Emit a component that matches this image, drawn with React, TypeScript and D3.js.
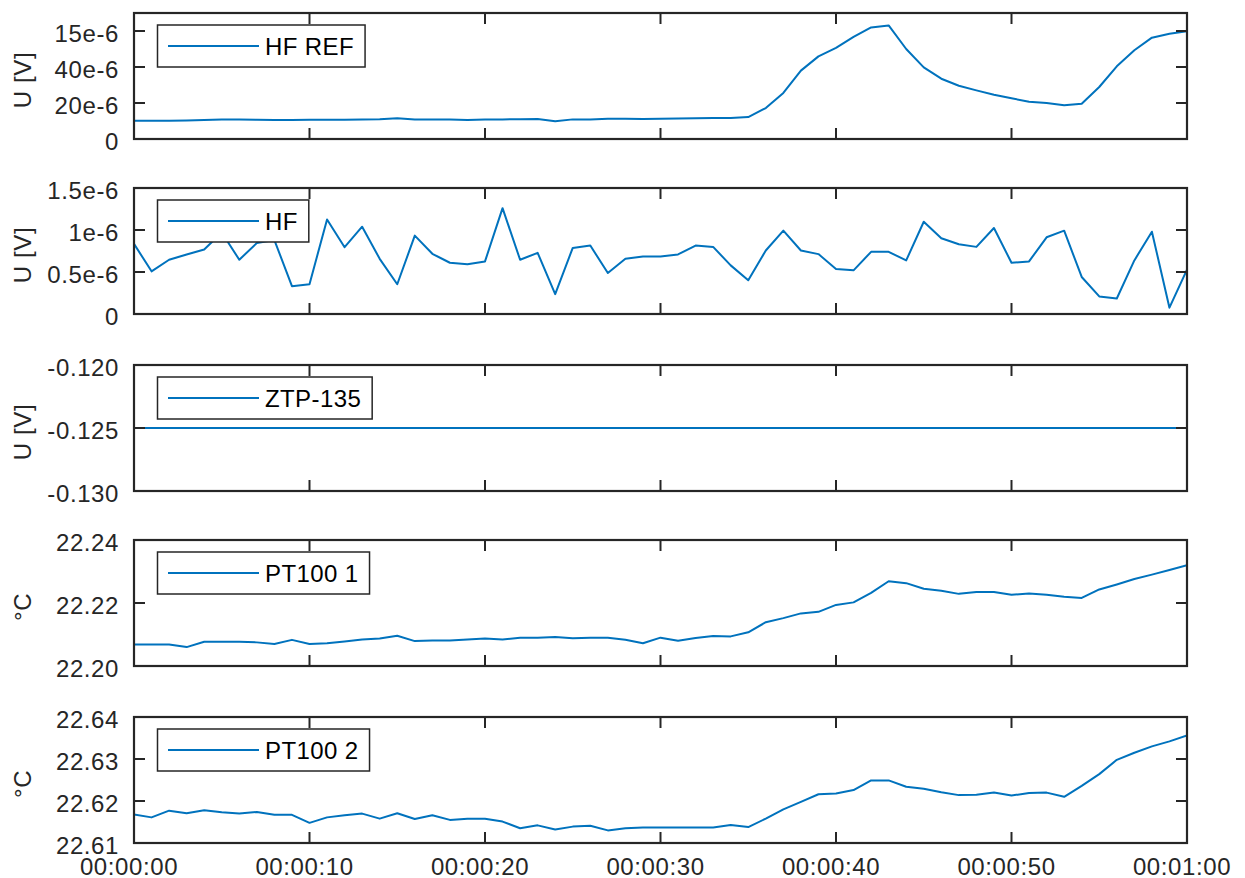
import React, { useEffect, useRef } from 'react';
import * as d3 from 'd3';

// ---- data ----
const SECONDS = [
  0, 1, 2, 3, 4, 5, 6, 7, 8, 9, 10, 11, 12, 13, 14, 15, 16, 17, 18, 19, 20,
  21, 22, 23, 24, 25, 26, 27, 28, 29, 30, 31, 32, 33, 34, 35, 36, 37, 38, 39, 40,
  41, 42, 43, 44, 45, 46, 47, 48, 49, 50, 51, 52, 53, 54, 55, 56, 57, 58, 59, 60,
];

const X_TICKS = [0, 10, 20, 30, 40, 50, 60];
const X_TICK_LABELS = ['00:00:00', '00:00:10', '00:00:20', '00:00:30', '00:00:40', '00:00:50', '00:01:00'];

// HF REF, in microvolts (scaled by 1e-6 below)
const HF_REF_UV = [
  10.1, 10.1, 10.2, 10.3, 10.6, 10.8, 10.8, 10.7, 10.6, 10.6, 10.7, 10.7, 10.7, 10.9, 11.0, 11.5,
  10.8, 10.9, 10.8, 10.5, 10.8, 10.9, 11.0, 11.1, 9.8, 10.9, 10.8, 11.2, 11.3, 11.1, 11.3, 11.4,
  11.5, 11.6, 11.6, 12.2, 17.2, 25.6, 38.0, 45.9, 50.6, 56.7, 62.0, 63.1, 50.0, 39.8, 33.5, 29.6,
  27.0, 24.6, 22.6, 20.7, 20.0, 18.7, 19.6, 28.9, 40.4, 49.3, 56.3, 58.5, 59.8,
];
const HF_UV = [
  0.835, 0.508, 0.646, 0.709, 0.768, 0.97, 0.646, 0.845, 0.88, 0.331, 0.354, 1.126, 0.795, 1.039,
  0.657, 0.354, 0.933, 0.717, 0.61, 0.591, 0.626, 1.26, 0.646, 0.728, 0.236, 0.787, 0.815, 0.488,
  0.657, 0.685, 0.685, 0.709, 0.815, 0.799, 0.579, 0.402, 0.756, 0.992, 0.756, 0.713, 0.535, 0.52,
  0.74, 0.74, 0.638, 1.098, 0.902, 0.831, 0.799, 1.024, 0.61, 0.626, 0.913, 0.992, 0.441, 0.209,
  0.185, 0.638, 0.98, 0.075, 0.528,
];
const ZTP_135 = [
  -0.125, -0.125, -0.125, -0.125, -0.125, -0.125, -0.125, -0.125, -0.125, -0.125, -0.125,
  -0.125, -0.125, -0.125, -0.125, -0.125, -0.125, -0.125, -0.125, -0.125, -0.125,
  -0.125, -0.125, -0.125, -0.125, -0.125, -0.125, -0.125, -0.125, -0.125, -0.125,
  -0.125, -0.125, -0.125, -0.125, -0.125, -0.125, -0.125, -0.125, -0.125, -0.125,
  -0.125, -0.125, -0.125, -0.125, -0.125, -0.125, -0.125, -0.125, -0.125, -0.125,
  -0.125, -0.125, -0.125, -0.125, -0.125, -0.125, -0.125, -0.125, -0.125, -0.125,
];
const PT100_1 = [
  22.2068, 22.2068, 22.2068, 22.206, 22.2077, 22.2077, 22.2077, 22.2075, 22.207, 22.2083, 22.207,
  22.2072, 22.2078, 22.2084, 22.2087, 22.2096, 22.2079, 22.2081, 22.2081, 22.2084, 22.2087,
  22.2084, 22.209, 22.209, 22.2092, 22.2088, 22.209, 22.209, 22.2083, 22.2072, 22.209,
  22.208, 22.2089, 22.2095, 22.2094, 22.2107, 22.2139, 22.2152, 22.2167, 22.2172, 22.2194,
  22.2202, 22.2232, 22.2269, 22.2263, 22.2245, 22.2239, 22.2229, 22.2235, 22.2235, 22.2226,
  22.223, 22.2226, 22.222, 22.2216, 22.2243, 22.2259, 22.2276, 22.229, 22.2305, 22.232,
];
const PT100_2 = [
  22.6168, 22.6161, 22.6177, 22.6171, 22.6178, 22.6173, 22.617, 22.6174, 22.6167, 22.6167, 22.6148,
  22.6161, 22.6166, 22.617, 22.6158, 22.6171, 22.6157, 22.6166, 22.6155, 22.6158, 22.6158,
  22.6151, 22.6135, 22.6142, 22.6132, 22.6139, 22.6141, 22.613, 22.6135, 22.6137, 22.6137,
  22.6137, 22.6137, 22.6137, 22.6143, 22.6138, 22.6158, 22.618, 22.6198, 22.6216, 22.6218,
  22.6226, 22.6249, 22.6249, 22.6234, 22.6229, 22.6221, 22.6214, 22.6215, 22.622, 22.6213,
  22.6219, 22.622, 22.621, 22.6236, 22.6264, 22.6298, 22.6315, 22.633, 22.6342, 22.6356,
];

const SERIES_NAMES = ['HF REF', 'HF', 'ZTP-135', 'PT100 1', 'PT100 2'];
const Y_LABELS = ['U [V]', 'U [V]', 'U [V]', '°C', '°C'];
const Y_DOMAINS = [
  [0, 70e-6],
  [0, 1.5e-6],
  [-0.13, -0.12],
  [22.2, 22.24],
  [22.61, 22.64],
];
const Y_TICKS = [
  [0, 20e-6, 40e-6, 60e-6],
  [0, 0.5e-6, 1e-6, 1.5e-6],
  [-0.13, -0.125, -0.12],
  [22.2, 22.22, 22.24],
  [22.61, 22.62, 22.63, 22.64],
];
const Y_TICK_LABELS = [
  ['0', '20e-6', '40e-6', '15e-6'],
  ['0', '0.5e-6', '1e-6', '1.5e-6'],
  ['-0.130', '-0.125', '-0.120'],
  ['22.20', '22.22', '22.24'],
  ['22.61', '22.62', '22.63', '22.64'],
];

// ---- layout / style ----
const W = 1245;
const H = 878;
const LEFT = 134;
const RIGHT = 1187;
const TOPS = [13, 188, 365, 540, 717];
const PH = 126;
const AX = '#262626';
const LINE = '#0072BD';
const FONT = '"Liberation Sans", Arial, Helvetica, sans-serif';
const FS = 24;
const LS = 0.6;
const TICK = 11;

export default function App() {
  const ref = useRef<SVGSVGElement>(null);

  useEffect(() => {
    const svg = d3.select(ref.current);
    svg.selectAll('*').remove();
    svg.append('rect').attr('width', W).attr('height', H).attr('fill', '#ffffff');

    const x = d3.scaleLinear().domain([0, 60]).range([LEFT, RIGHT]);
    const allSeries = [
      HF_REF_UV.map((v) => v * 1e-6),
      HF_UV.map((v) => v * 1e-6),
      ZTP_135,
      PT100_1,
      PT100_2,
    ];

    allSeries.forEach((values, k) => {
      const top = TOPS[k];
      const bottom = top + PH;
      const y = d3.scaleLinear().domain(Y_DOMAINS[k]).range([bottom, top]);
      const g = svg.append('g');

      const clipId = `clip-${k}`;
      g.append('clipPath')
        .attr('id', clipId)
        .append('rect')
        .attr('x', LEFT)
        .attr('y', top)
        .attr('width', RIGHT - LEFT)
        .attr('height', PH);

      const line = d3
        .line<number>()
        .x((_, i) => x(SECONDS[i]))
        .y((d) => y(d));

      g.append('path')
        .datum(values)
        .attr('d', line)
        .attr('fill', 'none')
        .attr('stroke', LINE)
        .attr('stroke-width', 2)
        .attr('stroke-linejoin', 'round')
        .attr('clip-path', `url(#${clipId})`);

      // ticks (inward, all four sides)
      X_TICKS.forEach((t) => {
        const xx = x(t);
        g.append('line').attr('x1', xx).attr('x2', xx).attr('y1', bottom).attr('y2', bottom - TICK)
          .attr('stroke', AX).attr('stroke-width', 2);
        g.append('line').attr('x1', xx).attr('x2', xx).attr('y1', top).attr('y2', top + TICK)
          .attr('stroke', AX).attr('stroke-width', 2);
      });
      Y_TICKS[k].forEach((t, i) => {
        const yy = y(t);
        g.append('line').attr('x1', LEFT).attr('x2', LEFT + TICK).attr('y1', yy).attr('y2', yy)
          .attr('stroke', AX).attr('stroke-width', 2);
        g.append('line').attr('x1', RIGHT).attr('x2', RIGHT - TICK).attr('y1', yy).attr('y2', yy)
          .attr('stroke', AX).attr('stroke-width', 2);
        g.append('text')
          .attr('x', 119)
          .attr('y', yy + 10.6)
          .attr('text-anchor', 'end')
          .attr('font-family', FONT)
          .attr('font-size', FS)
          .attr('letter-spacing', LS)
          .attr('fill', AX)
          .text(Y_TICK_LABELS[k][i]);
      });

      // box
      g.append('rect')
        .attr('x', LEFT)
        .attr('y', top)
        .attr('width', RIGHT - LEFT)
        .attr('height', PH)
        .attr('fill', 'none')
        .attr('stroke', AX)
        .attr('stroke-width', 2.2);

      // y label
      g.append('text')
        .attr('transform', `translate(31, ${top + PH / 2 + 4}) rotate(-90)`)
        .attr('text-anchor', 'middle')
        .attr('font-family', FONT)
        .attr('font-size', FS)
        .attr('letter-spacing', LS)
        .attr('fill', AX)
        .text(Y_LABELS[k]);

      // legend
      const lg = g.append('g');
      const box = lg.append('rect')
        .attr('x', 157.5)
        .attr('y', top + 12)
        .attr('height', 42)
        .attr('fill', '#ffffff')
        .attr('stroke', AX)
        .attr('stroke-width', 1.5);
      lg.append('line')
        .attr('x1', 168)
        .attr('x2', 259)
        .attr('y1', top + 33)
        .attr('y2', top + 33)
        .attr('stroke', LINE)
        .attr('stroke-width', 2);
      const txt = lg.append('text')
        .attr('x', 265)
        .attr('y', top + 42)
        .attr('font-family', FONT)
        .attr('font-size', FS)
        .attr('letter-spacing', 0.4)
        .attr('fill', '#000000')
        .text(SERIES_NAMES[k]);
      const tw = (txt.node() as SVGTextElement).getComputedTextLength();
      box.attr('width', 265 + tw + 11 - 157.5);
    });

    // x tick labels on bottom panel
    const lastBottom = TOPS[TOPS.length - 1] + PH;
    X_TICKS.forEach((t, i) => {
      svg.append('text')
        .attr('x', x(t) - 5)
        .attr('y', lastBottom + 31.5)
        .attr('text-anchor', 'middle')
        .attr('font-family', FONT)
        .attr('font-size', FS)
        .attr('letter-spacing', LS)
        .attr('fill', AX)
        .text(X_TICK_LABELS[i]);
    });
  }, []);

  return (
    <div style={{ position: 'absolute', left: 0, top: 0 }}>
      <svg ref={ref} width={W} height={H} />
    </div>
  );
}
